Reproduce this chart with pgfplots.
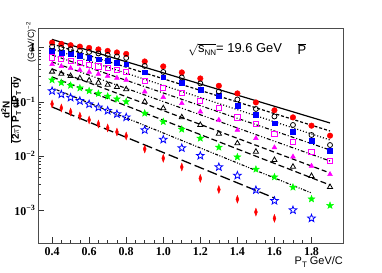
\documentclass[border=0pt]{standalone}
\usepackage{fontspec}
\setmainfont{Liberation Serif}
\newfontfamily\arial{Liberation Sans}
\usepackage{pgfplots}
\pgfplotsset{compat=1.18}
\usetikzlibrary{plotmarks}
\pgfdeclareplotmark{fivestar}{%
 \pgfpathmoveto{\pgfpointpolar{90}{\pgfplotmarksize}}%
 \pgfpathlineto{\pgfpointpolar{126}{0.42\pgfplotmarksize}}%
 \pgfpathlineto{\pgfpointpolar{162}{\pgfplotmarksize}}%
 \pgfpathlineto{\pgfpointpolar{198}{0.42\pgfplotmarksize}}%
 \pgfpathlineto{\pgfpointpolar{234}{\pgfplotmarksize}}%
 \pgfpathlineto{\pgfpointpolar{270}{0.42\pgfplotmarksize}}%
 \pgfpathlineto{\pgfpointpolar{306}{\pgfplotmarksize}}%
 \pgfpathlineto{\pgfpointpolar{342}{0.42\pgfplotmarksize}}%
 \pgfpathlineto{\pgfpointpolar{18}{\pgfplotmarksize}}%
 \pgfpathlineto{\pgfpointpolar{54}{0.42\pgfplotmarksize}}%
 \pgfpathclose\pgfusepathqfillstroke}
\pgfdeclareplotmark{fivestaro}{%
 \pgfpathmoveto{\pgfpointpolar{90}{\pgfplotmarksize}}%
 \pgfpathlineto{\pgfpointpolar{126}{0.42\pgfplotmarksize}}%
 \pgfpathlineto{\pgfpointpolar{162}{\pgfplotmarksize}}%
 \pgfpathlineto{\pgfpointpolar{198}{0.42\pgfplotmarksize}}%
 \pgfpathlineto{\pgfpointpolar{234}{\pgfplotmarksize}}%
 \pgfpathlineto{\pgfpointpolar{270}{0.42\pgfplotmarksize}}%
 \pgfpathlineto{\pgfpointpolar{306}{\pgfplotmarksize}}%
 \pgfpathlineto{\pgfpointpolar{342}{0.42\pgfplotmarksize}}%
 \pgfpathlineto{\pgfpointpolar{18}{\pgfplotmarksize}}%
 \pgfpathlineto{\pgfpointpolar{54}{0.42\pgfplotmarksize}}%
 \pgfpathclose\pgfusepathqstroke}
\definecolor{rred}{RGB}{255,0,0}
\definecolor{rblue}{RGB}{0,0,255}
\definecolor{rmag}{RGB}{255,0,255}
\definecolor{rgreen}{RGB}{0,255,0}
\begin{document}
\begin{tikzpicture}
\path[use as bounding box] (-38bp,-30bp) rectangle (344bp,243bp);
\begin{axis}[
  scale only axis, width=305bp, height=215bp,
  at={(0,0)}, anchor=south west,
  xmin=0.324, xmax=1.97, ymode=log, ymin=2.5e-4, ymax=2.3,
  axis line style={black!70, line width=0.8bp},
  tick style={black!80, line width=0.7bp},
  tick align=inside, xtick pos=left, ytick pos=left,
  major tick length=6bp, minor tick length=3bp,
  xtick={0.4,0.6,0.8,1.0,1.2,1.4,1.6,1.8},
  xticklabels={0.4,0.6,0.8,1.0,1.2,1.4,1.6,1.8},
  minor x tick num=3,
  ytick={0.001,0.01,0.1,1},
  yticklabels={10\textsuperscript{−3},10\textsuperscript{−2},10\textsuperscript{−1},1},
  xticklabel style={font=\fontsize{12}{12}\selectfont\bfseries, yshift=-1bp},
  yticklabel style={font=\fontsize{12}{12}\selectfont\bfseries, xshift=1bp},
  clip=true,
]
% fit lines
\addplot[no marks, black, line width=1.2bp] coordinates {(0.4,1.417) (1.9,0.0408)};
\addplot[no marks, black, line width=1.2bp, dash pattern=on 3bp off 2bp] coordinates {(0.4,1.170) (1.9,0.0290)};
\addplot[no marks, black, line width=1.2bp, dash pattern=on 1bp off 2bp] coordinates {(0.4,0.946) (1.9,0.0198)};
\addplot[no marks, black, line width=1.1bp, dash pattern=on 4bp off 2bp on 1bp off 2bp] coordinates {(0.4,0.733) (1.9,0.01296)};
\addplot[no marks, black, line width=1.1bp, dash pattern=on 4bp off 2bp on 1bp off 2bp on 1bp off 2bp] coordinates {(0.4,0.545) (1.9,0.00812)};
\addplot[no marks, black, line width=1.2bp, dash pattern=on 5bp off 3bp] coordinates {(0.4,0.4046) (1.9,0.00488)};
\addplot[no marks, black, line width=1.2bp, dash pattern=on 6bp off 3bp] coordinates {(0.4,0.288) (1.9,0.00293)};
\addplot[no marks, black, line width=1.1bp, dash pattern=on 1bp off 1.5bp on 1bp off 1.5bp on 3bp off 1.5bp] coordinates {(0.4,0.1805) (1.8,0.00209)};
\addplot[no marks, black, line width=1.3bp, dash pattern=on 10bp off 4bp] coordinates {(0.4,0.0805) (1.6,0.001686)};
% data
\addplot[only marks, mark=*, mark size=2.8bp, rred, mark options={fill=rred, draw=rred}] coordinates {
(0.4,1.237) (0.45,1.170) (0.5,1.107) (0.55,1.043) (0.6,0.987) (0.65,0.927) (0.7,0.869) (0.75,0.815) (0.8,0.765)
(0.9,0.556) (1.0,0.450) (1.1,0.349) (1.2,0.270) (1.3,0.198) (1.4,0.143) (1.5,0.0975) (1.6,0.0700) (1.7,0.0518) (1.8,0.0364) (1.9,0.0238)};
\addplot[only marks, mark=square*, mark size=2.4bp, rblue, mark options={fill=rblue, draw=rblue}] coordinates {
(0.4,0.880) (0.45,0.819) (0.5,0.762) (0.55,0.709) (0.6,0.660) (0.65,0.614) (0.7,0.571) (0.75,0.531) (0.8,0.494)
(0.9,0.3515) (1.0,0.2843) (1.1,0.2260) (1.2,0.1658) (1.3,0.1285) (1.4,0.0858) (1.5,0.0573) (1.6,0.0403) (1.7,0.0282) (1.8,0.0190) (1.9,0.0126)};
\addplot[only marks, mark=o, mark size=2.5bp, black, mark options={fill=white, draw=black, line width=0.8bp}] coordinates {
(0.4,1.043) (0.45,0.987) (0.5,0.934) (0.55,0.880) (0.6,0.833) (0.65,0.782) (0.7,0.733) (0.75,0.688) (0.8,0.646)
(0.9,0.460) (1.0,0.356) (1.1,0.282) (1.2,0.219) (1.3,0.1555) (1.4,0.1107) (1.5,0.0740) (1.6,0.0538) (1.7,0.0375) (1.8,0.0245) (1.9,0.0160)};
\addplot[only marks, mark=square, mark size=2.6bp, rmag, mark options={draw=rmag, line width=0.9bp}] coordinates {
(0.4,0.660) (0.45,0.611) (0.5,0.566) (0.55,0.524) (0.6,0.486) (0.65,0.450) (0.7,0.417) (0.75,0.386) (0.8,0.356)
(0.9,0.246) (1.0,0.1828) (1.1,0.1441) (1.2,0.1052) (1.3,0.0762) (1.4,0.0516) (1.5,0.0391) (1.6,0.0256) (1.7,0.0184) (1.8,0.01206) (1.9,0.00823)};
\addplot[only marks, mark=triangle*, mark size=2.8bp, rmag, mark options={fill=rmag, draw=rmag}] coordinates {
(0.4,0.494) (0.45,0.4537) (0.5,0.4186) (0.55,0.3845) (0.6,0.3546) (0.65,0.3258) (0.7,0.2992) (0.75,0.2761) (0.8,0.2535)
(0.9,0.1542) (1.0,0.1216) (1.1,0.0942) (1.2,0.0660) (1.3,0.0464) (1.4,0.0303) (1.5,0.0213) (1.6,0.0144) (1.7,0.00975) (1.8,0.00657) (1.9,0.00462)};
\addplot[only marks, mark=triangle, mark size=3bp, black, mark options={draw=black, line width=0.8bp}] coordinates {
(0.4,0.3607) (0.45,0.3286) (0.5,0.2992) (0.55,0.2725) (0.6,0.2482) (0.65,0.2260) (0.7,0.2059) (0.75,0.1875) (0.8,0.1708)
(0.9,0.1009) (1.0,0.0762) (1.1,0.0520) (1.2,0.0375) (1.3,0.0259) (1.4,0.0172) (1.5,0.01206) (1.6,0.00847) (1.7,0.00637) (1.8,0.00429) (1.9,0.00269)};
\addplot[only marks, mark=fivestar, mark size=3.6bp, rgreen, mark options={fill=rgreen, draw=rgreen}] coordinates {
(0.4,0.2535) (0.45,0.2260) (0.5,0.2015) (0.55,0.1797) (0.6,0.1596) (0.65,0.1422) (0.7,0.1268) (0.75,0.1131) (0.8,0.1009)
(0.9,0.0616) (1.0,0.0431) (1.1,0.0312) (1.2,0.0213) (1.3,0.01453) (1.4,0.00962) (1.5,0.00571) (1.6,0.00412) (1.7,0.00266) (1.8,0.00162) (1.9,0.00123)};
\addplot[only marks, mark=fivestaro, mark size=4bp, rblue, mark options={draw=rblue, line width=0.8bp}] coordinates {
(0.4,0.1589) (0.45,0.1381) (0.5,0.1201) (0.55,0.1043) (0.6,0.0907) (0.65,0.0792) (0.7,0.0688) (0.75,0.0598) (0.8,0.0520)
(0.9,0.0303) (1.0,0.0202) (1.1,0.0141) (1.2,0.01017) (1.3,0.00629) (1.4,0.00439) (1.5,0.00237) (1.6,0.00150) (1.7,0.00101) (1.8,0.000712)};
\addplot[only marks, mark=diamond*, mark size=2.6bp, rred, mark options={fill=rred, draw=rred, xscale=0.75, yscale=1.5}] coordinates {
(0.4,0.0915) (0.45,0.0772) (0.5,0.0651) (0.55,0.0549) (0.6,0.0464) (0.65,0.0391) (0.7,0.0330) (0.75,0.0278) (0.8,0.0235)
(0.9,0.01352) (1.0,0.00911) (1.1,0.00629) (1.2,0.00389) (1.3,0.00242) (1.4,0.00160) (1.5,0.000930) (1.6,0.000712)};
\end{axis}
\node[anchor=west, inner sep=0pt] at (150bp,193bp) {\arial\fontsize{13}{13}\selectfont $\sqrt{\mbox{s\raisebox{-0.4ex}{\fontsize{8}{8}\selectfont NN}}}$= 19.6 GeV};
\node[inner sep=0pt] at (264bp,194bp) {\arial\fontsize{13}{13}\selectfont $\overline{\mbox{P}}$};
\node[anchor=east, inner sep=0pt] at (305bp,-19bp) {\arial\fontsize{11}{11}\selectfont P\raisebox{-0.4ex}{\fontsize{8}{8}\selectfont T} GeV/C};
\node[rotate=90, inner sep=0pt, anchor=north] at (-37bp,133bp) {\arial\fontsize{10}{10}\selectfont\bfseries $\frac{\mbox{d\textsuperscript{2}N}}{\mbox{(2$\pi$) P\raisebox{-0.4ex}{\fontsize{7}{7}\selectfont T} dP\raisebox{-0.4ex}{\fontsize{7}{7}\selectfont T} dy}}$};
\node[rotate=90, inner sep=0pt] at (-7bp,201bp) {\arial\fontsize{9}{9}\selectfont (GeV/C)\textsuperscript{−2}};
\end{tikzpicture}
\end{document}
